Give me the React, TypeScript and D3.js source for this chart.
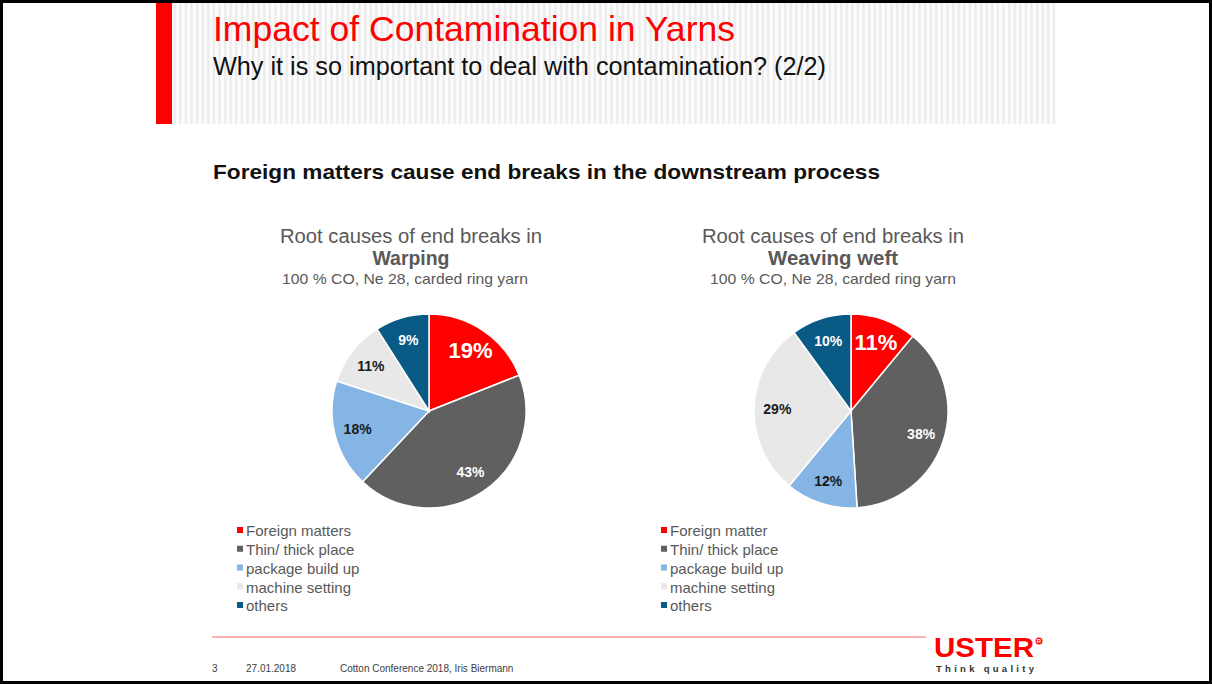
import React from 'react';
import * as d3 from 'd3';

// chart data
const warpingCategories = ['Foreign matters', 'Thin/ thick place', 'package build up', 'machine setting', 'others'];
const weftCategories = ['Foreign matter', 'Thin/ thick place', 'package build up', 'machine setting', 'others'];
const warpingValues = [19, 43, 18, 11, 9];
const weftValues = [11, 38, 12, 29, 10];
const sliceColors = ['#ff0000', '#606060', '#84b5e5', '#e8e8e8', '#0a5a86'];
const labelColors = ['#ffffff', '#ffffff', '#1a1a1a', '#1a1a1a', '#ffffff'];

const W = 1212;
const H = 684;
const FONT = "'Liberation Sans', Arial, sans-serif";

type PieProps = {
  cx: number;
  cy: number;
  r: number;
  values: number[];
  categories: string[];
  titleX: number;
  noteX: number;
  bold: string;
  boldWidth: number;
  legendX: number;
};

function Pie({ cx, cy, r, values, categories, titleX, noteX, bold, boldWidth, legendX }: PieProps) {
  const pie = d3.pie<number>().sort(null).value(d => d);
  const arcs = pie(values);
  const arc = d3.arc<d3.PieArcDatum<number>>().innerRadius(0).outerRadius(r);
  const labelArc = d3.arc<d3.PieArcDatum<number>>().innerRadius(r * 0.76).outerRadius(r * 0.76);
  const legendY = d3.scaleLinear().domain([0, 4]).range([531, 606]);

  return (
    <g>
      <text x={titleX} y={243} textAnchor="middle" fontSize={19.5} fill="#595959"
        textLength={262} lengthAdjust="spacingAndGlyphs">Root causes of end breaks in</text>
      <text x={titleX} y={265} textAnchor="middle" fontSize={19.5} fontWeight="bold" fill="#595959"
        textLength={boldWidth} lengthAdjust="spacingAndGlyphs">{bold}</text>
      <text x={noteX} y={284} textAnchor="middle" fontSize={14.5} fill="#595959"
        textLength={246} lengthAdjust="spacingAndGlyphs">100 % CO, Ne 28, carded ring yarn</text>
      <g transform={`translate(${cx},${cy})`}>
        {arcs.map((a, i) => (
          <path key={i} d={arc(a) || ''} fill={sliceColors[i]} stroke="#ffffff" strokeWidth={1.5} />
        ))}
        {arcs.map((a, i) => {
          const [lx, ly] = labelArc.centroid(a);
          const big = i === 0;
          return (
            <text key={'l' + i} x={lx} y={ly} dy="0.36em" textAnchor="middle"
              fontSize={big ? 22 : 14} fontWeight="bold" fill={labelColors[i]}>
              {a.data}%
            </text>
          );
        })}
      </g>
      {categories.map((c, i) => (
        <g key={'lg' + i}>
          <rect x={legendX} y={legendY(i) - 4} width={6} height={6} fill={sliceColors[i]} />
          <text x={legendX + 9} y={legendY(i)} dy="0.35em" fontSize={15} fill="#595959">{c}</text>
        </g>
      ))}
    </g>
  );
}

export default function App() {
  return (
    <svg width={W} height={H} style={{ position: 'absolute', left: 0, top: 0, background: '#fff' }} fontFamily={FONT}>
      <defs>
        <pattern id="stripes" width={5.6} height={10} patternUnits="userSpaceOnUse">
          <rect width={5.6} height={10} fill="#fcfcfc" />
          <rect x={0} width={2.2} height={10} fill="#ebebeb" />
        </pattern>
      </defs>
      <rect x={0} y={0} width={W} height={H} fill="#ffffff" />
      {/* page frame */}
      <rect x={1.5} y={1.5} width={W - 3} height={H - 3} fill="none" stroke="#000" strokeWidth={3} />
      <rect x={156} y={3} width={900} height={678} fill="#ffffff" />
      {/* header */}
      <rect x={156} y={3} width={900} height={121} fill="url(#stripes)" />
      <rect x={156} y={3} width={16} height={121} fill="#ff0000" />
      <text x={213} y={41} fontSize={35} fill="#ff0000" textLength={522} lengthAdjust="spacingAndGlyphs">Impact of Contamination in Yarns</text>
      <text x={213} y={75} fontSize={25} fill="#111" textLength={613} lengthAdjust="spacingAndGlyphs">Why it is so important to deal with contamination? (2/2)</text>
      <text x={213} y={179} fontSize={20.5} fontWeight="bold" fill="#111" textLength={667} lengthAdjust="spacingAndGlyphs">Foreign matters cause end breaks in the downstream process</text>

      <Pie cx={429} cy={411} r={97} values={warpingValues} categories={warpingCategories}
        titleX={411} noteX={405} bold="Warping" boldWidth={77} legendX={237} />
      <Pie cx={851} cy={411} r={97} values={weftValues} categories={weftCategories}
        titleX={833} noteX={833} bold="Weaving weft" boldWidth={130} legendX={661} />

      {/* footer */}
      <line x1={212} x2={926} y1={637} y2={637} stroke="#ffb0b0" strokeWidth={2} />
      <text x={212} y={672} fontSize={10} fill="#404040">3</text>
      <text x={246} y={672} fontSize={10} fill="#404040">27.01.2018</text>
      <text x={340} y={672} fontSize={10} fill="#404040">Cotton Conference 2018, Iris Biermann</text>
      <text x={934} y={657} fontSize={28} fontWeight="bold" fill="#ff0000" textLength={100} lengthAdjust="spacingAndGlyphs">USTER</text>
      <circle cx={1039} cy={641} r={3.5} fill="#ff0000" />
      <text x={1039} y={643} fontSize={6} fontWeight="bold" fill="#fff" textAnchor="middle">R</text>
      <text x={936} y={672} fontSize={9.5} fontWeight="bold" fill="#333" textLength={98} lengthAdjust="spacing">Think quality</text>
    </svg>
  );
}
